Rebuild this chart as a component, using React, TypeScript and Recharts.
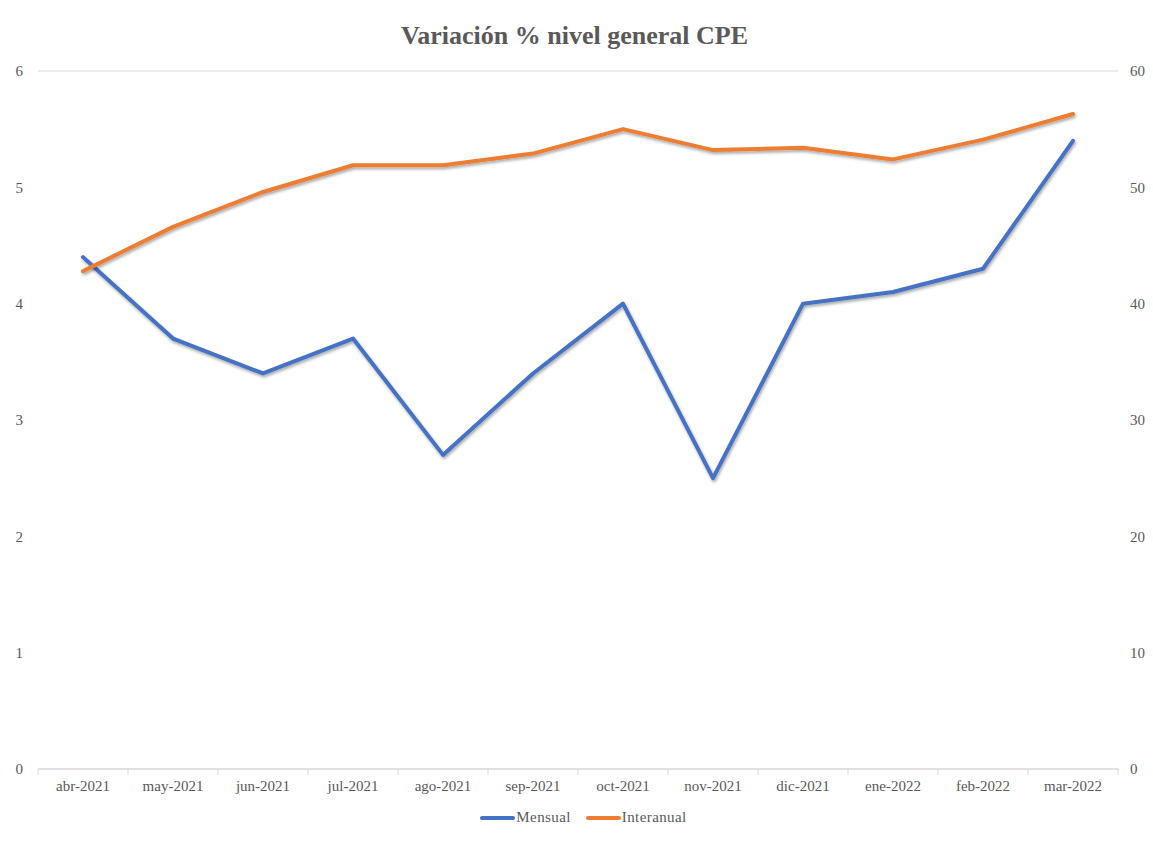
import React from 'react';
import { LineChart, Line, XAxis, YAxis, CartesianGrid, Legend } from 'recharts';

const months = [
  'abr-2021', 'may-2021', 'jun-2021', 'jul-2021', 'ago-2021', 'sep-2021',
  'oct-2021', 'nov-2021', 'dic-2021', 'ene-2022', 'feb-2022', 'mar-2022',
];
const mensual = [4.4, 3.7, 3.4, 3.7, 2.7, 3.4, 4.0, 2.5, 4.0, 4.1, 4.3, 5.4];
const interanual = [42.8, 46.6, 49.6, 51.9, 51.9, 52.9, 55.0, 53.2, 53.4, 52.4, 54.1, 56.3];
const leftTicks = [0, 1, 2, 3, 4, 5, 6];
const rightTicks = [0, 10, 20, 30, 40, 50, 60];

const data = months.map((m, i) => ({ mes: m, Mensual: mensual[i], Interanual: interanual[i] }));

const FONT = '"Liberation Serif", "Times New Roman", serif';
const GRAY = '#595959';
const GRID = '#d9d9d9';
const BLUE = '#4472C4';
const ORANGE = '#ED7D31';

// tick del eje X con marcas entre categorías, como en Excel
const XTick = (props: any) => {
  const { x, y, payload, index } = props;
  const half = 45;
  return (
    <g>
      <line x1={x - half} x2={x - half} y1={y} y2={y + 6} stroke={GRID} />
      {index === months.length - 1 && (
        <line x1={x + half} x2={x + half} y1={y} y2={y + 6} stroke={GRID} />
      )}
      <text x={x} y={y} dy={22} textAnchor="middle" fill={GRAY} fontSize={15} fontFamily={FONT}>
        {payload.value}
      </text>
    </g>
  );
};

const legendItems = [
  { name: 'Mensual', color: BLUE },
  { name: 'Interanual', color: ORANGE },
];

const LegendContent = () => (
  <div style={{ display: 'flex', justifyContent: 'center', paddingTop: 10, paddingLeft: 6, fontFamily: FONT, fontSize: 15, color: GRAY }}>
    {legendItems.map((it, i) => (
      <div key={it.name} style={{ display: 'flex', alignItems: 'center', marginLeft: i === 0 ? 0 : 15 }}>
        <span style={{ display: 'inline-block', width: 35, height: 4, borderRadius: 2, background: it.color, marginRight: 1 }} />
        <span style={{ letterSpacing: 0.4 }}>{it.name}</span>
      </div>
    ))}
  </div>
);

export default function App() {
  return (
    <div style={{ position: 'relative', width: 1145, height: 834, marginLeft: -1, borderLeft: `1px solid ${GRID}`, background: '#fff' }}>
      <svg width={0} height={0} style={{ position: 'absolute' }}>
        <defs>
          <filter id="sombra" x="-5%" y="-20%" width="110%" height="140%">
            <feGaussianBlur in="SourceAlpha" stdDeviation="1.5" />
            <feOffset dx="1" dy="2" result="b" />
            <feComponentTransfer>
              <feFuncA type="linear" slope="0.35" />
            </feComponentTransfer>
            <feMerge>
              <feMergeNode />
              <feMergeNode in="SourceGraphic" />
            </feMerge>
          </filter>
        </defs>
      </svg>
      <div
        style={{
          position: 'absolute', top: 13, left: -6, width: '100%', textAlign: 'center',
          fontFamily: FONT, fontWeight: 'bold', fontSize: 26, color: GRAY, zIndex: 2,
        }}
      >
        Variación % nivel general CPE
      </div>
      <LineChart width={1145} height={834} data={data} margin={{ top: 63, right: 0, left: 0, bottom: 0 }}>
        <CartesianGrid vertical={false} stroke={GRID} />
        <XAxis
          dataKey="mes"
          interval={0}
          padding={{ left: 45, right: 45 }}
          stroke={GRID}
          tickLine={false}
          tickSize={0}
          tickMargin={0}
          height={30}
          tick={<XTick />}
        />
        <YAxis
          yAxisId="left"
          domain={[0, 6]}
          ticks={leftTicks}
          width={30}
          axisLine={false}
          tickLine={false}
          tickSize={0}
          tickMargin={15}
          tick={{ fill: GRAY, fontSize: 15, fontFamily: FONT }}
        />
        <YAxis
          yAxisId="right"
          orientation="right"
          domain={[0, 60]}
          ticks={rightTicks}
          width={35}
          axisLine={false}
          tickLine={false}
          tickSize={0}
          tickMargin={12}
          tick={{ fill: GRAY, fontSize: 15, fontFamily: FONT }}
        />
        <Legend verticalAlign="bottom" height={43} content={<LegendContent />} />
        <Line
          yAxisId="left"
          type="linear"
          dataKey="Mensual"
          stroke={BLUE}
          strokeWidth={4}
          strokeLinecap="round"
          strokeLinejoin="round"
          dot={false}
          activeDot={false}
          filter="url(#sombra)"
          isAnimationActive={false}
        />
        <Line
          yAxisId="right"
          type="linear"
          dataKey="Interanual"
          stroke={ORANGE}
          strokeWidth={4}
          strokeLinecap="round"
          strokeLinejoin="round"
          dot={false}
          activeDot={false}
          filter="url(#sombra)"
          isAnimationActive={false}
        />
      </LineChart>
    </div>
  );
}
